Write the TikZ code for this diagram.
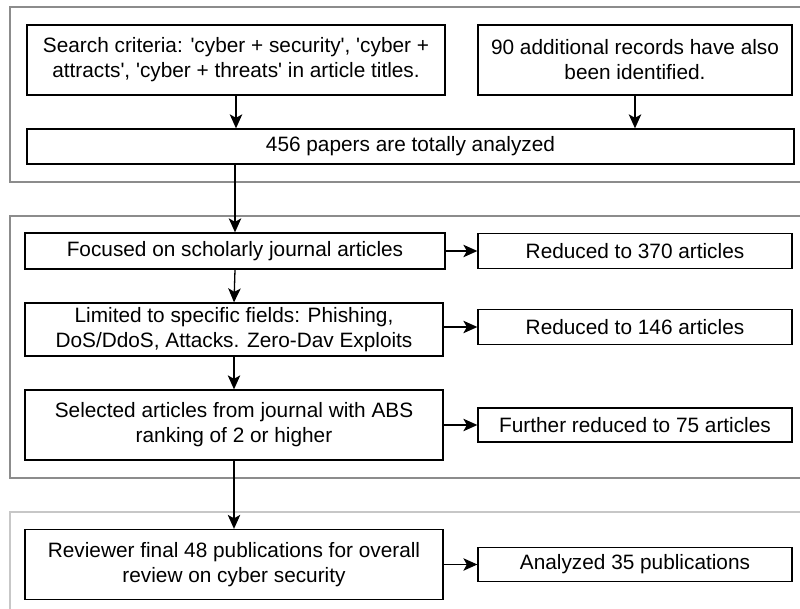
\documentclass[tikz,border=0pt]{standalone}
\usepackage{fontspec}
\setmainfont{Liberation Sans}[Ligatures=TeXOff]
\usetikzlibrary{arrows.meta,calc}

\tikzset{
  stage/.style={draw=black, line width=1.3pt, fill=white, align=center, inner sep=2pt,
    font=\fontsize{20.8}{25}\selectfont, text=black},
  wide/.style={stage, minimum width=418pt},
  side/.style={stage, minimum width=314pt},
  group/.style={draw=black!45, line width=1.5pt},
  flow/.style={-{Stealth[length=14pt,width=12.5pt,inset=3.5pt]}, line width=1.3pt},
}

\begin{document}
\begin{tikzpicture}[x=1pt,y=-1pt]
\useasboundingbox (0,0) rectangle (800,609);
\clip (0,0) rectangle (800,609);

% phase frames
\draw[group] (10,7) rectangle (806,182);
\draw[group] (10,216) rectangle (806,478);
\draw[group, draw=black!22] (10,512) rectangle (806,616);

% identification
\node[wide, minimum height=70pt] (search) at (236,60) {Search criteria: 'cyber + security', 'cyber +\\attracts', 'cyber + threats' in article titles.};
\node[side, minimum height=70pt] (extra) at (635,60) {90 additional records have also\\been identified.};
\node[stage, minimum width=767pt, minimum height=35pt] (total) at (410.5,146.5) {456 papers are totally analyzed};

% screening
\node[stage, minimum width=420pt, minimum height=36pt] (focus) at (235,251) {Focused on scholarly journal articles};
\node[side, minimum height=35pt] (red370) at (635,251) {Reduced to 370 articles};
\node[wide, minimum height=53pt] (limit) at (234,329.5) {Limited to specific fields: Phishing,\\DoS/DdoS, Attacks. Zero-Dav Exploits};
\node[side, minimum height=35pt] (red146) at (635,327) {Reduced to 146 articles};
\node[wide, minimum height=70pt] (select) at (234,425) {Selected articles from journal with ABS\\ranking of 2 or higher};
\node[side, minimum height=34pt] (red75) at (635,425) {Further reduced to 75 articles};

% final
\node[wide, minimum height=70pt] (review) at (234,564.5) {Reviewer final 48 publications for overall\\review on cyber security};
\node[side, minimum height=34pt] (an35) at (635,564.5) {Analyzed 35 publications};

% connectors
\draw[flow] (search.south) -- (search.south |- total.north);
\draw[flow] (extra.south) -- (extra.south |- total.north);
\draw[flow] (focus.north |- total.south) -- (focus.north);
\draw[flow] (focus.south) -- (limit.north);
\draw[flow] (limit.south) -- (select.north);
\draw[flow] (select.south) -- (review.north);
\draw[flow] (focus.east) -- (red370.west);
\draw[flow] (limit.east |- red146.west) -- (red146.west);
\draw[flow] (select.east) -- (red75.west);
\draw[flow] (review.east) -- (an35.west);

\end{tikzpicture}
\end{document}
